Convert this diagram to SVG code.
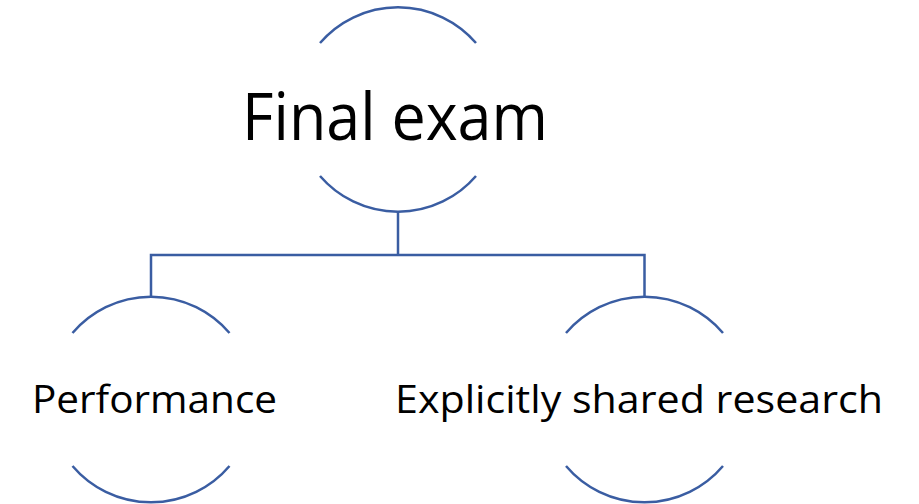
<svg xmlns="http://www.w3.org/2000/svg" width="919" height="504" viewBox="0 0 919 504">
  <style>
    .arc { fill: none; stroke: #3A5DA2; stroke-width: 2.5; }
    .conn { fill: none; stroke: #3A5DA2; stroke-width: 2.5; }
    .lbl { font-family: "Open Sans", "Liberation Sans", sans-serif; fill: #000; text-anchor: middle; }
  </style>
  <rect width="919" height="504" fill="#fff"/>
  <g id="connectors">
    <path class="conn" d="M398,212 V255"/>
    <path class="conn" d="M151,297 V255 H644.5 V297"/>
  </g>
  <g id="node-final-exam">
    <path class="arc" d="M320,43 A103,103 0 0 1 476,43"/>
    <path class="arc" d="M320,176 A103,103 0 0 0 476,176"/>
    <text class="lbl" x="395" y="140" font-size="66" textLength="306" lengthAdjust="spacingAndGlyphs">Final exam</text>
  </g>
  <g id="node-performance">
    <path class="arc" d="M72.5,333 A103,103 0 0 1 229.5,333"/>
    <path class="arc" d="M72.5,466 A103,103 0 0 0 229.5,466"/>
    <text class="lbl" x="154.5" y="413" font-size="39" textLength="245" lengthAdjust="spacingAndGlyphs">Performance</text>
  </g>
  <g id="node-research">
    <path class="arc" d="M566,333 A103,103 0 0 1 723,333"/>
    <path class="arc" d="M566,466 A103,103 0 0 0 723,466"/>
    <text class="lbl" x="639" y="413" font-size="39" textLength="488" lengthAdjust="spacingAndGlyphs">Explicitly shared research</text>
  </g>
</svg>
